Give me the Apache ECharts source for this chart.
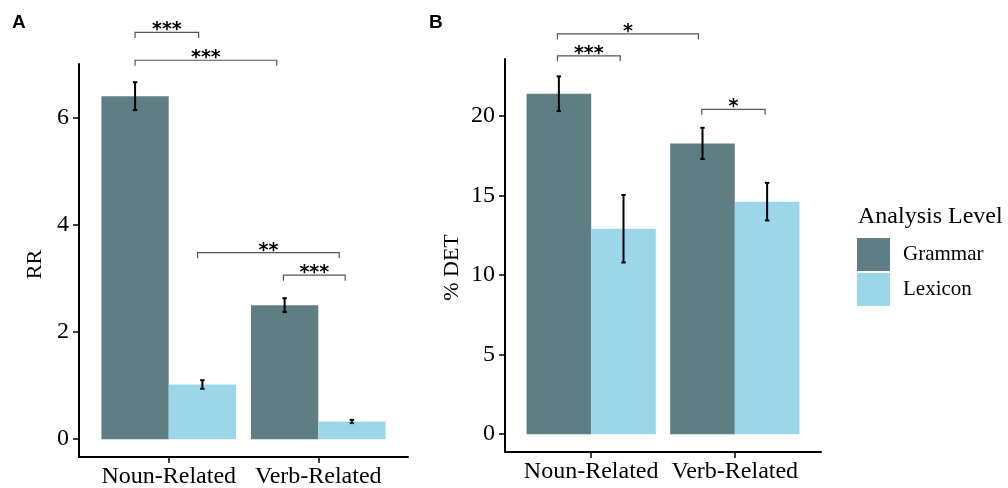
<!DOCTYPE html>
<html>
<head>
<meta charset="utf-8">
<script src="https://cdn.jsdelivr.net/npm/echarts@6/dist/echarts.min.js"></script>
<style>html,body{margin:0;padding:0;background:#fff}#c{width:1008px;height:488px}</style>
</head>
<body>
<div id="c"></div>
<script>
// ---- data ----
const categories = ['Noun-Related', 'Verb-Related'];
const seriesNames = ['Grammar', 'Lexicon'];
const rrGrammar = [6.40, 2.50];
const rrGrammarErr = [0.26, 0.13];
const rrLexicon = [1.02, 0.33];
const rrLexiconErr = [0.08, 0.03];
const detGrammar = [21.38, 18.26];
const detGrammarErr = [1.09, 0.98];
const detLexicon = [12.90, 14.60];
const detLexiconErr = [2.12, 1.18];
const rrTicks = [0, 2, 4, 6];
const detTicks = [0, 5, 10, 15, 20];
// significance brackets: [from x, to x, height, label]
const rrBrackets = [[0.775, 1.2, 7.59, '***'], [0.775, 1.722, 7.07, '***'], [1.193, 2.14, 3.48, '**'], [1.767, 2.18, 3.06, '***']];
const detBrackets = [[0.765, 1.747, 25.14, '*'], [0.765, 1.202, 23.76, '***'], [1.770, 2.211, 20.4, '*']];

const colors = ['#5e7e83', '#9bd7e9'];
const serif = 'Liberation Serif';
const half = 0.45;

function barRender(lo, hi) {
  return function (params, api) {
    const x = api.value(0), v = api.value(1);
    const p0 = api.coord([x + lo, v]);
    const p1 = api.coord([x + hi, 0]);
    return { type: 'rect', shape: { x: p0[0], y: p0[1], width: p1[0] - p0[0], height: p1[1] - p0[1] }, style: { fill: api.visual('color') } };
  };
}
function errRender(params, api) {
  const x = api.value(0), m = api.value(1), e = api.value(2);
  const t = api.coord([x, m + e]);
  const b = api.coord([x, m - e]);
  const cw = 2.2;
  const st = { stroke: '#000', lineWidth: 2 };
  return { type: 'group', children: [
    { type: 'line', shape: { x1: t[0], y1: t[1], x2: b[0], y2: b[1] }, style: st },
    { type: 'line', shape: { x1: t[0] - cw, y1: t[1], x2: t[0] + cw, y2: t[1] }, style: st },
    { type: 'line', shape: { x1: b[0] - cw, y1: b[1], x2: b[0] + cw, y2: b[1] }, style: st }
  ] };
}
function bracketRender(list) {
  return function (params, api) {
    const d = list[params.dataIndex];
    const a = api.coord([d[0], d[2]]);
    const b = api.coord([d[1], d[2]]);
    const tip = 5.5;
    return { type: 'group', children: [
      { type: 'polyline', shape: { points: [[a[0], a[1] + tip], [a[0], a[1]], [b[0], b[1]], [b[0], b[1] + tip]] }, style: { stroke: '#555', lineWidth: 1.2, fill: null } },
      { type: 'text', x: (a[0] + b[0]) / 2, y: a[1] - 2, style: { text: d[3], fill: '#000', fontFamily: 'DejaVu Sans', fontWeight: 'bold', fontSize: 19, align: 'center', verticalAlign: 'middle' } }
    ] };
  };
}

function errData(vals, errs, off) { return vals.map((v, i) => [i + 1 + off, v, errs[i]]); }
function barData(vals) { return vals.map((v, i) => [i + 1, v]); }

function xAxis(gi) {
  return {
    type: 'value', gridIndex: gi, min: 0.4, max: 2.6,
    axisLine: { show: true, onZero: false, lineStyle: { color: '#000', width: 2 } },
    axisTick: { show: true, length: 6, lineStyle: { color: '#000', width: 1.5 }, customValues: [1, 2] },
    axisLabel: { customValues: [1, 2], formatter: v => categories[Math.round(v) - 1], color: '#000', fontFamily: serif, fontSize: 24, margin: 8 },
    splitLine: { show: false }
  };
}
function yAxis(gi, min, max, ticks, name, gap, pad) {
  return {
    type: 'value', gridIndex: gi, min: min, max: max,
    name: name, nameLocation: 'middle', nameRotate: 90, nameGap: gap,
    nameTextStyle: { color: '#000', fontFamily: serif, fontSize: 22, padding: [0, pad, 0, 0] },
    axisLine: { show: true, onZero: false, lineStyle: { color: '#000', width: 2 } },
    axisTick: { show: true, length: 6, lineStyle: { color: '#000', width: 1.5 }, customValues: ticks },
    axisLabel: { customValues: ticks, color: '#000', fontFamily: serif, fontSize: 24, margin: 10 },
    splitLine: { show: false }
  };
}

const series = [];
[[rrGrammar, rrLexicon, rrGrammarErr, rrLexiconErr, rrBrackets, 0], [detGrammar, detLexicon, detGrammarErr, detLexiconErr, detBrackets, 1]].forEach(p => {
  const gi = p[5];
  series.push({ type: 'custom', name: seriesNames[0], xAxisIndex: gi, yAxisIndex: gi, renderItem: barRender(-half, 0), data: barData(p[0]), itemStyle: { color: colors[0] }, encode: { x: 0, y: 1 }, silent: true });
  series.push({ type: 'custom', name: seriesNames[1], xAxisIndex: gi, yAxisIndex: gi, renderItem: barRender(0, half), data: barData(p[1]), itemStyle: { color: colors[1] }, encode: { x: 0, y: 1 }, silent: true });
  series.push({ type: 'custom', name: 'err' + gi, xAxisIndex: gi, yAxisIndex: gi, renderItem: errRender, data: errData(p[0], p[2], -half / 2).concat(errData(p[1], p[3], half / 2)), encode: { x: 0, y: 1 }, z: 5, silent: true });
  series.push({ type: 'custom', name: 'sig' + gi, xAxisIndex: gi, yAxisIndex: gi, renderItem: bracketRender(p[4]), data: p[4].map(d => [d[0], d[2]]), encode: { x: 0, y: 1 }, clip: false, z: 6, silent: true });
});

const option = {
  animation: false,
  color: colors,
  title: [
    { text: 'A', left: 12, top: 13, padding: 0, textStyle: { fontFamily: 'Liberation Sans', fontWeight: 'bold', fontSize: 19, color: '#000' } },
    { text: 'B', left: 429, top: 13, padding: 0, textStyle: { fontFamily: 'Liberation Sans', fontWeight: 'bold', fontSize: 19, color: '#000' } },
    { text: 'Analysis Level', left: 853, top: 200, textStyle: { fontFamily: serif, fontWeight: 'normal', fontSize: 24, color: '#000' } }
  ],
  legend: {
    data: seriesNames, orient: 'vertical', left: 857, top: 238, padding: 0,
    icon: 'rect', itemWidth: 33, itemHeight: 33, itemGap: 2,
    textStyle: { fontFamily: serif, fontSize: 21, color: '#000', padding: [0, 0, 0, 8] },
    selectedMode: false
  },
  grid: [
    { left: 79, top: 64, width: 329, height: 393, outerBoundsMode: 'none' },
    { left: 505, top: 59, width: 316, height: 393, outerBoundsMode: 'none' }
  ],
  xAxis: [xAxis(0), xAxis(1)],
  yAxis: [yAxis(0, -0.333, 7.0, rrTicks, 'RR', 33, 8), yAxis(1, -1.12, 23.56, detTicks, '% DET', 42, 24)],
  series: series
};
const chart = echarts.init(document.getElementById('c'), null, { renderer: 'canvas' });
chart.setOption(option);
</script>
</body>
</html>
